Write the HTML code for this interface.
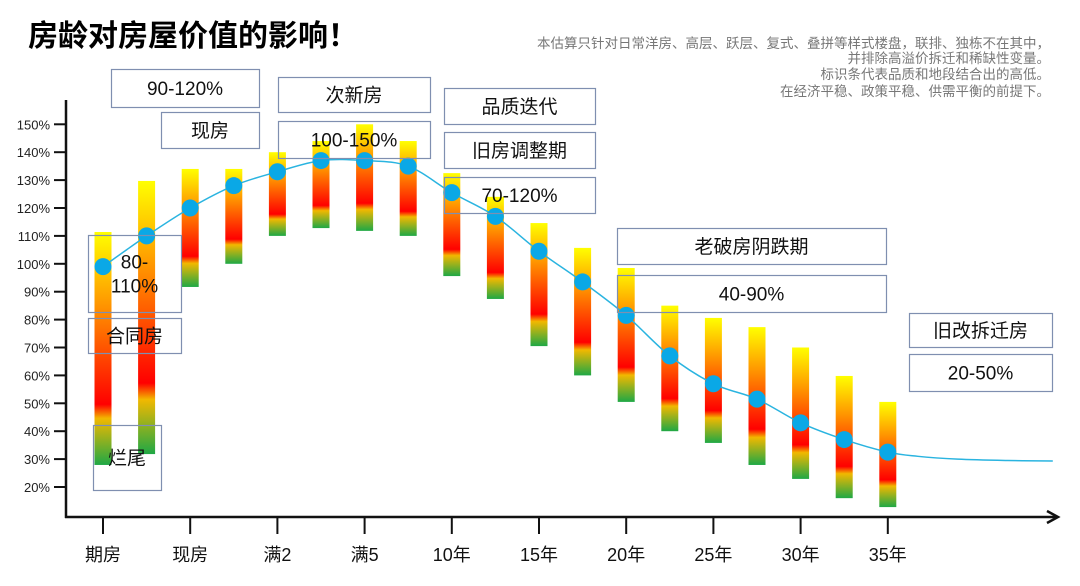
<!DOCTYPE html>
<html><head><meta charset="utf-8"><style>
body{margin:0;background:#fff;}
svg{display:block;font-family:"Liberation Sans","Noto Sans CJK SC",sans-serif;}
</style></head><body>
<svg id="c" width="1080" height="586" viewBox="0 0 1080 586">
<defs>
<linearGradient id="g" x1="0" y1="0" x2="0" y2="1">
<stop offset="0" stop-color="#ffff00"/><stop offset="0.3" stop-color="#ff9a00"/>
<stop offset="0.62" stop-color="#ff2a00"/><stop offset="0.74" stop-color="#ff0000"/>
<stop offset="0.8" stop-color="#f2b800"/><stop offset="1" stop-color="#1fa845"/>
</linearGradient>
</defs>
<text x="28" y="46" font-size="30" font-weight="bold" fill="#000">房龄对房屋价值的影响！</text>
<g font-size="13.5" fill="#777" text-anchor="end">
<text x="1050" y="48">本估算只针对日常洋房、高层、跃层、复式、叠拼等样式楼盘，联排、独栋不在其中，</text>
<text x="1050" y="63">并排除高溢价拆迁和稀缺性变量。</text>
<text x="1050" y="79">标识条代表品质和地段结合出的高低。</text>
<text x="1050" y="96">在经济平稳、政策平稳、供需平衡的前提下。</text>
</g>
<g id="axes"></g><g id="bars"></g><g id="line"></g><g id="boxes"></g>
</svg>
<script>
const yTicks=[20,30,40,50,60,70,80,90,100,110,120,130,140,150];
const xLabels=["期房","现房","满2","满5","10年","15年","20年","25年","30年","35年"];
const barTops=[111.4,129.7,134,134,140,144,150,144,132.5,124,114.6,105.7,98.5,85,80.6,77.3,70,59.8,50.5];
const barBottoms=[27.9,31.8,91.7,100,110,112.8,111.8,110,95.6,87.4,70.5,60,50.5,40,35.8,27.9,22.9,16,12.8];
const dots=[99,110,120,128,133,137,137,135,125.5,117,104.5,93.5,81.5,67,57,51.5,43,37,32.5];
const tail=[31,30,29.5,29.3];
const NS="http://www.w3.org/2000/svg";
const y=v=>487-(v-20)*2.79;
const x=i=>103+i*43.6;
function mk(t,a,p){const e=document.createElementNS(NS,t);for(const k in a)e.setAttribute(k,a[k]);p.appendChild(e);return e;}
const ax=document.getElementById('axes');
let e=mk('line',{x1:66,y1:100,x2:66,y2:518,stroke:'#111','stroke-width':2.5},ax);


e=mk('line',{x1:65,y1:517,x2:1056,y2:517,stroke:'#111','stroke-width':2.5},ax);


mk('path',{d:'M1047 511 L1058 517 L1047 523',fill:'none',stroke:'#111','stroke-width':2.5},ax);
yTicks.forEach(v=>{
 mk('line',{x1:54,x2:66,y1:y(v),y2:y(v),stroke:'#111','stroke-width':2},ax);
 const t=mk('text',{x:50,y:y(v)+5,'font-size':13,'text-anchor':'end',fill:'#222'},ax);t.textContent=v+'%';
 
 
});
xLabels.forEach((s,i)=>{
 const xx=x(i*2);
 mk('line',{x1:xx,x2:xx,y1:517,y2:534,stroke:'#111','stroke-width':2},ax);
 const t=mk('text',{x:xx,y:561,'font-size':18,'text-anchor':'middle',fill:'#111'},ax);t.textContent=s;
 
 
});
const bg=document.getElementById('bars');
barTops.forEach((t,i)=>{
 const r=mk('rect',{x:x(i)-8.5,y:y(t),width:17,height:y(barBottoms[i])-y(t),fill:'url(#g)'},bg);
 
 
});
const lg=document.getElementById('line');
const pts=dots.map((d,i)=>[x(i),y(d)]);
tail.forEach((d,k)=>pts.push([x(18)+[30,70,120,165][k],y(d)]));
let d='M'+pts[0][0]+' '+pts[0][1];
for(let i=1;i<pts.length;i++){const p0=pts[i-2]||pts[i-1],p1=pts[i-1],p2=pts[i],p3=pts[i+1]||p2;
 d+=` C${p1[0]+(p2[0]-p0[0])/6} ${p1[1]+(p2[1]-p0[1])/6} ${p2[0]-(p3[0]-p1[0])/6} ${p2[1]-(p3[1]-p1[1])/6} ${p2[0]} ${p2[1]}`;}
e=mk('path',{d:d,fill:'none',stroke:'#2ab4e0','stroke-width':1.5},lg);


dots.forEach((v,i)=>{const c=mk('circle',{cx:x(i),cy:y(v),r:8.5,fill:'#0aa8e6'},lg);
 
 });
const boxes=[
 [111,69,148,38,["90-120%"],'box-90-120'],[161,112,98,36,["现房"],'box-xianfang'],
 [278,77,152,35,["次新房"],'box-cixinfang'],[278,121,152,37,["100-150%"],'box-100-150'],
 [444,88,151,36,["品质迭代"],'box-pinzhi'],[444,132,151,36,["旧房调整期"],'box-jiufang'],
 [444,177,151,36,["70-120%"],'box-70-120'],[617,228,269,36,["老破房阴跌期"],'box-laopo'],
 [617,275,269,37,["40-90%"],'box-40-90'],[909,313,143,34,["旧改拆迁房"],'box-jiugai'],
 [909,354,143,37,["20-50%"],'box-20-50'],[88,235,93,77,["80-","110%"],'box-80-110'],
 [88,318,93,35,["合同房"],'box-hetong'],[93,425,68,65,["烂尾"],'box-lanwei']];
const bx=document.getElementById('boxes');
boxes.forEach(b=>{
 const g=mk('g',{},bx);
 
 
 mk('rect',{x:b[0]+.5,y:b[1]+.5,width:b[2],height:b[3],fill:'none',stroke:'#7f8fb0','stroke-width':1.2},g);
 const n=b[4].length;
 b[4].forEach((s,k)=>{const t=mk('text',{x:b[0]+b[2]/2,y:b[1]+b[3]/2+7+(k-(n-1)/2)*24,'font-size':19,'text-anchor':'middle',fill:'#111'},g);t.textContent=s;});
});
</script>
</body></html>
